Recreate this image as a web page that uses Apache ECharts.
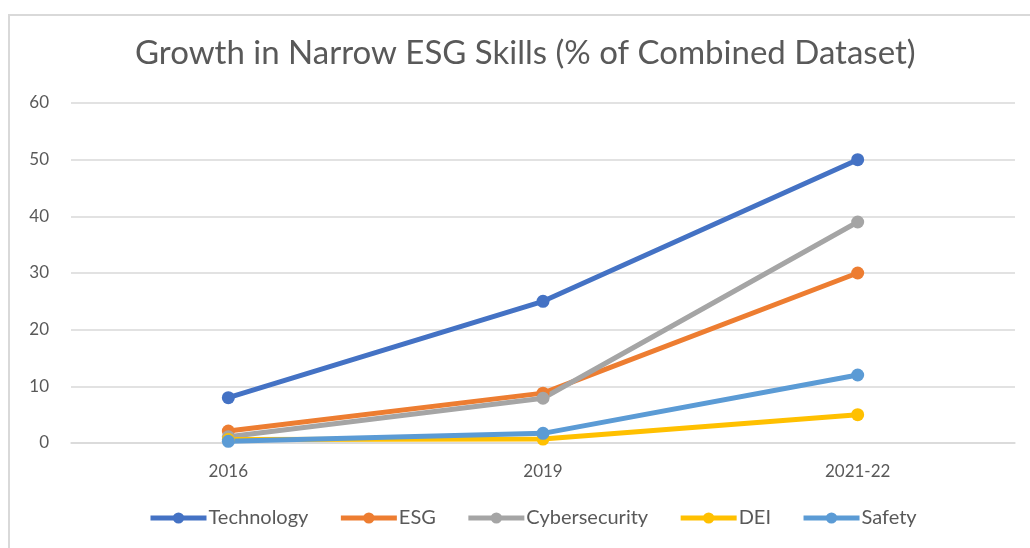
<!DOCTYPE html>
<html><head><meta charset="utf-8">
<script src="https://cdn.jsdelivr.net/npm/echarts@6/dist/echarts.min.js"></script>
<style>html,body{margin:0;padding:0;background:#fff}#c{width:1030px;height:548px}</style>
</head><body><div id="c"></div>
<script>
const categories = ['2016', '2019', '2021-22'];
const technology = [8, 25, 50];
const esg = [2.1, 8.8, 30];
const cybersecurity = [1.1, 7.9, 39];
const dei = [0.6, 0.7, 5];
const safety = [0.3, 1.7, 12];
const yTicks = [0, 10, 20, 30, 40, 50, 60];

const font = 'Lato, "Open Sans", sans-serif';
const colors = ['#4472C4', '#ED7D31', '#A5A5A5', '#FFC000', '#5B9BD5'];
const names = ['Technology', 'ESG', 'Cybersecurity', 'DEI', 'Safety'];
const values = [technology, esg, cybersecurity, dei, safety];

const chart = echarts.init(document.getElementById('c'));
chart.setOption({
  animation: false,
  color: colors,
  graphic: [{
    type: 'rect', left: 8, top: 14, z: -1,
    shape: { width: 1100, height: 600 },
    style: { fill: '#fff', stroke: '#d9d9d9', lineWidth: 2 }
  }],
  title: {
    text: 'Growth in Narrow ESG Skills (% of Combined Dataset)',
    left: 130, top: 32,
    textStyle: { fontFamily: font, fontSize: 33, fontWeight: 'normal', color: '#595959' }
  },
  legend: {
    bottom: 15, left: 143,
    itemWidth: 56, itemHeight: 14, itemGap: 30,
    lineStyle: { width: 5 },
    textStyle: { fontFamily: font, fontSize: 20, color: '#595959', padding: [0, 0, 0, -3] },
    data: names
  },
  grid: { left: 71, right: 15, top: 103, bottom: 105 },
  xAxis: {
    type: 'category', data: categories, boundaryGap: true,
    axisLine: { lineStyle: { color: '#d9d9d9', width: 1.5 } },
    axisTick: { show: false },
    axisLabel: { fontFamily: font, fontSize: 17, color: '#595959', margin: 20 }
  },
  yAxis: {
    type: 'value', min: yTicks[0], max: yTicks[yTicks.length - 1], interval: 10,
    axisLine: { show: false }, axisTick: { show: false },
    splitLine: { lineStyle: { color: '#d9d9d9', width: 1.5 } },
    axisLabel: { fontFamily: font, fontSize: 17, color: '#595959', margin: 22 }
  },
  series: names.map((n, i) => ({
    name: n, type: 'line', data: values[i],
    symbol: 'circle', symbolSize: 13,
    lineStyle: { width: 5, color: colors[i] },
    itemStyle: { color: colors[i] }
  }))
});
</script></body></html>
